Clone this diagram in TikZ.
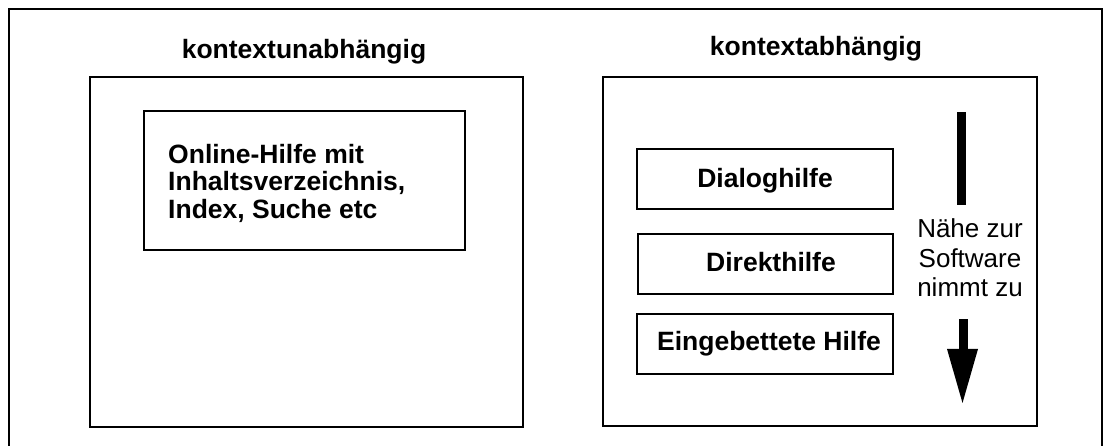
\documentclass[tikz,border=0pt]{standalone}
\usepackage{fontspec}
\setmainfont{Liberation Sans}
\begin{document}
\begin{tikzpicture}[x=1pt,y=-1pt,
  frame/.style={draw=black,line width=2pt},
  hbox/.style={draw=black,line width=2pt},
  btxt/.style={inner sep=0pt,font=\fontsize{26.5}{27.5}\selectfont\bfseries},
  rtxt/.style={inner sep=0pt,align=center,font=\fontsize{26}{29.5}\selectfont}]
\useasboundingbox (0,0) rectangle (1104,446);
% outer frame (open at the bottom)
\draw[frame] (9,446) -- (9,9) -- (1102,9) -- (1102,446);
% left part
\node[btxt,anchor=base] (tl) at (304,59) {kontextunabhängig};
\draw[hbox] (90,77) rectangle (523,427);
\draw[hbox] (144,111) rectangle (465,250);
\node[btxt,anchor=west,align=left] (online) at (168,183) {Online-Hilfe mit\\Inhaltsverzeichnis,\\Index, Suche etc};
% right part
\node[btxt,anchor=base] (tr) at (816,56) {kontextabhängig};
\draw[hbox] (603,77) rectangle (1037,426);
\draw[hbox] (637,149) rectangle (893,209);
\draw[hbox] (638,234) rectangle (893,294);
\draw[hbox] (637,314) rectangle (893,374);
\node[btxt,anchor=base] (dialog) at (765,188) {Dialoghilfe};
\node[btxt,anchor=base] (direkt) at (771,272) {Direkthilfe};
\node[btxt,anchor=base] (eing) at (769,351) {Eingebettete Hilfe};
\node[rtxt] (naehe) at (970,258) {Nähe zur\\Software\\nimmt zu};
% arrow
\fill[black] (957,112) rectangle (966,205);
\fill[black] (958.5,319) rectangle (967.5,350);
\fill[black] (947,349) -- (978,349) -- (962.5,403) -- cycle;
\end{tikzpicture}
\end{document}
